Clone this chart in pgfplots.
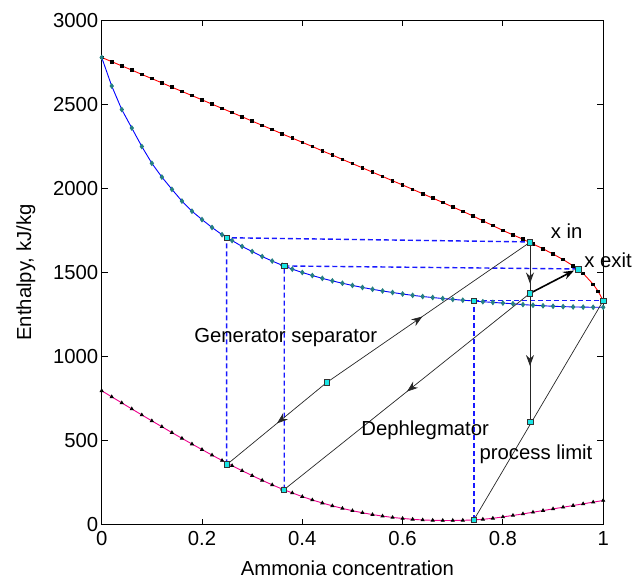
\documentclass[border=0pt]{standalone}
\usepackage{fontspec}
\setmainfont{Liberation Sans}
\usepackage{pgfplots}
\pgfplotsset{compat=1.18}
\usepackage{pgfplotstable}
\usetikzlibrary{arrows.meta,decorations.markings}

\pgfplotstableread{
x y
0.00 2780
0.02 2755
0.04 2730
0.06 2705
0.08 2679
0.10 2654
0.12 2629
0.14 2603
0.16 2578
0.18 2553
0.20 2528
0.22 2502
0.24 2477
0.26 2452
0.28 2427
0.30 2401
0.32 2376
0.34 2351
0.36 2325
0.38 2300
0.40 2275
0.42 2250
0.44 2224
0.46 2199
0.48 2173
0.50 2148
0.52 2123
0.54 2097
0.56 2072
0.58 2046
0.60 2021
0.62 1995
0.64 1969
0.66 1943
0.68 1917
0.70 1890
0.72 1864
0.74 1837
0.76 1808
0.78 1779
0.80 1750
0.82 1724
0.84 1698
0.86 1670
0.88 1641
0.90 1610
0.92 1577
0.94 1540
0.96 1495
0.98 1430
0.99 1388
1.00 1332
}\vapour

\pgfplotstableread{
x y
0.00 2780
0.02 2610
0.04 2470
0.06 2360
0.08 2250
0.10 2150
0.12 2068
0.14 1995
0.16 1925
0.18 1865
0.20 1815
0.22 1768
0.24 1725
0.26 1690
0.28 1655
0.30 1625
0.32 1595
0.34 1568
0.36 1543
0.38 1520
0.40 1500
0.42 1482
0.44 1465
0.46 1450
0.48 1436
0.50 1423
0.52 1411
0.54 1400
0.56 1390
0.58 1381
0.60 1372
0.62 1364
0.64 1357
0.66 1351
0.68 1345
0.70 1340
0.72 1335
0.74 1331
0.76 1326
0.78 1322
0.80 1318
0.82 1314
0.84 1309
0.86 1305
0.88 1302
0.90 1299
0.92 1297
0.94 1295
0.96 1294
0.98 1293
1.00 1293
}\equil

\pgfplotstableread{
x y
0.00 796
0.02 760
0.04 724
0.06 688
0.08 652
0.10 617
0.12 582
0.14 547
0.16 513
0.18 479
0.20 446
0.22 413
0.24 381
0.26 350
0.28 320
0.30 291
0.32 263
0.34 236
0.36 211
0.38 188
0.40 166
0.42 146
0.44 128
0.46 111
0.48 96
0.50 82
0.52 70
0.54 59
0.56 50
0.58 42
0.60 36
0.62 31
0.64 27
0.66 25
0.68 24
0.70 24
0.72 25
0.74 27
0.76 31
0.78 37
0.80 45
0.82 54
0.84 63
0.86 73
0.88 83
0.90 93
0.92 103
0.94 113
0.96 123
0.98 133
1.00 143
}\liquid

\definecolor{mteal}{rgb}{0.15,0.5,0.5}
\definecolor{mcyan}{rgb}{0.1,0.9,0.9}
\definecolor{mblue}{rgb}{0.1,0.1,1}

\begin{document}
\begin{tikzpicture}
\begin{axis}[
  scale only axis, width=501.5pt, height=504pt,
  xmin=0, xmax=1, ymin=0, ymax=3000,
  clip=false,
  xtick={0,0.2,0.4,0.6,0.8,1},
  xticklabels={0,0.2,0.4,0.6,0.8,1},
  ytick={0,500,1000,1500,2000,2500,3000},
  yticklabels={0,500,1000,1500,2000,2500,3000},
  tick align=inside, major tick length=6pt,
  axis line style={black, line width=0.9pt},
  tick style={black, line width=0.9pt},
  xtick pos=both, ytick pos=both,
  tick label style={font=\fontsize{20.3}{24}\selectfont},
  label style={font=\fontsize{20.3}{24}\selectfont},
  xlabel={Ammonia concentration},
  ylabel={Enthalpy, kJ/kg},
  xlabel style={at={(axis description cs:0.49,-0.086)}, anchor=center},
  ylabel style={at={(axis description cs:-0.151,0.5)}, anchor=center},
  xticklabel style={yshift=-3pt},
  /pgf/number format/assume math mode=true,
]
\coordinate (ll) at (rel axis cs:0,0);
\coordinate (ur) at (rel axis cs:1,1);

% curves
\addplot[red, line width=0.9pt, mark=square*, mark size=1.3pt,
  mark options={black, solid}] table {\vapour};
\addplot[blue, line width=0.9pt, mark=diamond*, mark size=2.2pt,
  mark options={mteal, solid}] table {\equil};
\addplot[magenta, line width=0.9pt, mark=triangle*, mark size=1.6pt,
  mark options={black, solid}] table {\liquid};

% dashed construction lines
\addplot[draw=mblue, line width=1.4pt, dash pattern=on 5pt off 3pt] coordinates {(0.249,358) (0.249,1707) (0.854,1682)};
\addplot[draw=mblue, line width=1.4pt, dash pattern=on 5pt off 3pt] coordinates {(0.364,207) (0.364,1539) (0.950,1521)};
\addplot[draw=mblue, line width=1.4pt, dash pattern=on 5pt off 3pt] coordinates {(0.742,27) (0.742,1332)};
\addplot[draw=mblue, line width=1.4pt, dash pattern=on 5pt off 3pt] coordinates {(0.742,1332) (1.0,1332)};

% process lines
\addplot[black!85, line width=0.7pt, postaction={decorate},
  decoration={markings, mark=at position 0.5 with {\arrow{Stealth[length=11pt,width=8pt]}}}]
  coordinates {(0.449,846) (0.250,358)};
\addplot[black!85, line width=0.7pt, postaction={decorate},
  decoration={markings, mark=at position 0.47 with {\arrow{Stealth[length=11pt,width=8pt]}}}]
  coordinates {(0.449,846) (0.854,1680)};
\addplot[black!85, line width=0.7pt, postaction={decorate},
  decoration={markings, mark=at position 0.5 with {\arrow{Stealth[length=11pt,width=8pt]}}}]
  coordinates {(0.854,1376) (0.3635,207)};
\addplot[black!85, line width=0.9pt, postaction={decorate},
  decoration={markings,
    mark=at position 0.23 with {\arrow{Stealth[length=11pt,width=8pt]}},
    mark=at position 0.69 with {\arrow{Stealth[length=11pt,width=8pt]}}}]
  coordinates {(0.854,1680) (0.854,612)};
\addplot[black!85, line width=0.7pt] coordinates {(0.742,27) (1.0,1332)};
\addplot[black, line width=1.6pt, -{Stealth[length=11pt,width=8pt]}]
  coordinates {(0.854,1376) (0.942,1512)};

% state points
\addplot[only marks, mark=square*, mark size=2.7pt,
  mark options={fill=mcyan, draw=black!80, line width=0.6pt}]
  coordinates {(0.249,1707) (0.364,1539) (0.742,1332) (0.854,1680) (0.950,1519)
    (0.854,1376) (1.0,1332) (0.250,358) (0.3635,207) (0.742,27) (0.449,846) (0.855,612)};

% labels
\node[anchor=west, font=\fontsize{20.3}{24}\selectfont, inner sep=0pt] at (axis cs:0.895,1749) {x in};
\node[anchor=west, font=\fontsize{20.3}{24}\selectfont, inner sep=0pt] at (axis cs:0.962,1574) {x exit};
\node[anchor=center, font=\fontsize{20.3}{24}\selectfont, inner sep=0pt] at (axis cs:0.367,1112) {Generator separator};
\node[anchor=center, font=\fontsize{20.3}{24}\selectfont, inner sep=0pt] at (axis cs:0.645,562) {Dephlegmator};
\node[anchor=center, font=\fontsize{20.3}{24}\selectfont, inner sep=0pt] at (axis cs:0.866,420) {process limit};
\end{axis}
\pgfresetboundingbox
\path[use as bounding box] ([xshift=-101.7pt,yshift=-56.5pt]ll) rectangle ([xshift=32.8pt,yshift=20.5pt]ur);
\end{tikzpicture}
\end{document}
